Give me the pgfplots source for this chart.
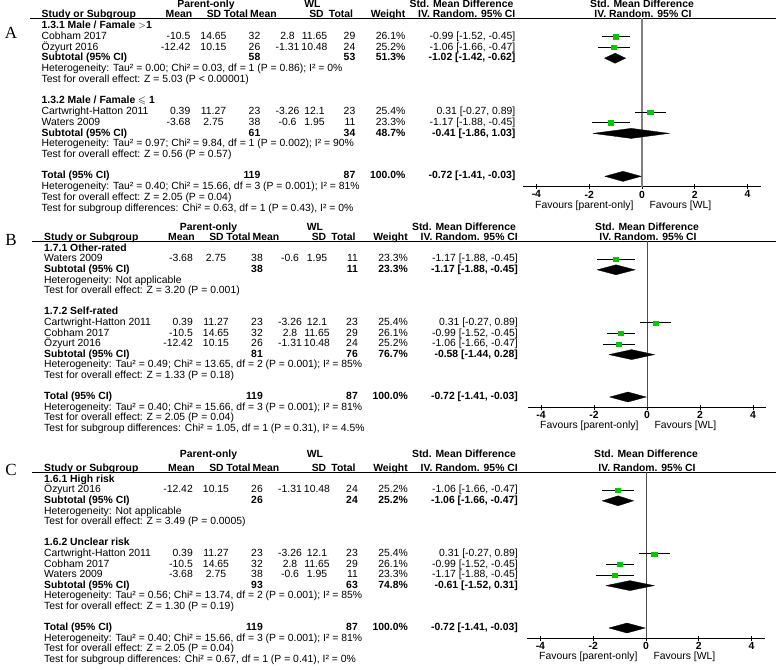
\documentclass[border=0pt]{standalone}
\usepackage{fontspec}
\setmainfont{Liberation Sans}
\newfontfamily\serifA{Liberation Serif}
\usepackage{amssymb}
\usepackage{pgfplots}
\pgfplotsset{compat=1.18}

\definecolor{mk}{RGB}{0,200,0}
\newcommand\fs{\fontsize{10.4}{12}\selectfont}

% panel: zero x, y of row 0, row step, text x shift, px per unit
\newcommand\setpanel[5]{\def\zx{#1}\def\yo{#2}\def\dy{#3}\def\xo{#4}\def\ux{#5}%
  \pgfmathsetmacro\axL{#1-4.5*#5}\pgfmathsetmacro\axB{-(#2+#3*16.95)}}
\newcommand\ry[1]{-(\yo+\dy*(#1))}
\newcommand\Lt[3]{\node[anchor=mid west,inner sep=0] at ({#1+\xo},{\ry{#2}}) {#3};}
\newcommand\Rt[3]{\node[anchor=mid east,inner sep=0] at ({#1+\xo},{\ry{#2}}) {#3};}
\newcommand\Ct[3]{\node[anchor=mid,inner sep=0] at ({#1+\xo},{\ry{#2}}) {#3};}

\newcommand\study[9]{\Lt{44}{#1}{#2}\Rt{193}{#1}{#3}\Ct{216}{#1}{#4}\Rt{263}{#1}{#5}%
  \Ct{290}{#1}{#6}\Ct{317}{#1}{#7}\Rt{358}{#1}{#8}\Rt{408}{#1}{#9}}
\newcommand\ci[2]{\Rt{518}{#1}{#2}}
\newcommand\subt[6]{\Lt{44}{#1}{\bfseries #2}\Rt{263}{#1}{\bfseries #3}\Rt{358}{#1}{\bfseries #4}%
  \Rt{408}{#1}{\bfseries #5}\Rt{518}{#1}{\bfseries #6}}

\newcommand\header{%
  \Ct{208.5}{\por}{\bfseries Parent-only}
  \Ct{315}{\por}{\bfseries WL}
  \Ct{464}{\por}{\bfseries Std. Mean Difference}
  \node[anchor=mid,inner sep=0] at ({\zx},{\ry{\por}}) {\bfseries Std. Mean Difference};
  \Lt{44}{1}{\bfseries Study or Subgroup}
  \Ct{181.5}{1}{\bfseries Mean}
  \Ct{216.5}{1}{\bfseries SD}
  \Ct{238.5}{1}{\bfseries Total}
  \Ct{266}{1}{\bfseries Mean}
  \Ct{319}{1}{\bfseries SD}
  \Ct{343.5}{1}{\bfseries Total}
  \Rt{408}{1}{\bfseries Weight}
  \Rt{518}{1}{\bfseries IV. Random. 95\% CI}
  \node[anchor=mid,inner sep=0] at ({\zx+1},{\ry{1}}) {\bfseries IV. Random. 95\% CI};
  \draw[line width=0.9pt] ({32+\xo},{\ry{1.3}}) -- (776,{\ry{1.3}});
}

\pgfplotsset{panel/.style={
  anchor=south west, at={(\axL pt,\axB pt)},
  x=\ux pt, y=\dy pt,
  xmin=-4.5, xmax=4.5, ymin=-16.95, ymax=-1.3,
  axis x line=bottom, axis y line=none, ytick=\empty,
  axis line style={-, line width=0.8pt, black},
  xtick={-4,-2,0,2,4}, xticklabels={-4,-2,0,2,4},
  tick align=center, major tick length=5pt,
  tick style={black, line width=0.8pt},
  x tick label style={font=\fs\bfseries, inner sep=1.5pt},
  clip=false},
  ci/.style={black, line width=0.8pt},
  sq/.style={only marks, mark=square*, mark size=2.1pt,
    mark options={fill=mk, draw=mk, xscale=1.2}},
  dm/.style={fill=black, draw=black, line width=0.3pt},
  zl/.style={gray, line width=1.2pt}}

\newcommand\favours{%
  \node[anchor=mid east, font=\fs, xshift=-5pt, yshift=-19pt] at (axis cs:0,-16.95) {Favours [parent-only]};
  \node[anchor=mid west, font=\fs, xshift=4pt, yshift=-19pt] at (axis cs:0,-16.95) {Favours [WL]};}

\begin{document}
\begin{tikzpicture}
\useasboundingbox (0,0) rectangle (776pt,-669pt);

% ================= A =================
\setpanel{642}{4.5}{10.74}{-2.5}{26.4}\def\por{0}
\begin{scope}[x=1pt,y=1pt,font=\fs]
\node[font=\serifA\fontsize{17}{17}\selectfont] at (11,-33) {A};
\header
\Lt{44}{2}{\bfseries 1.3.1 Male / Famale $>$1}
\study{3}{Cobham 2017}{-10.5}{14.65}{32}{2.8}{11.65}{29}{26.1\%}\ci{3}{-0.99 [-1.52, -0.45]}
\study{4}{Özyurt 2016}{-12.42}{10.15}{26}{-1.31}{10.48}{24}{25.2\%}\ci{4}{-1.06 [-1.66, -0.47]}
\subt{5}{Subtotal (95\% CI)}{58}{53}{51.3\%}{-1.02 [-1.42, -0.62]}
\Lt{44}{6}{Heterogeneity: Tau² = 0.00; Chi² = 0.03, df = 1 (P = 0.86); I² = 0\%}
\Lt{44}{7}{Test for overall effect: Z = 5.03 (P < 0.00001)}
\Lt{44}{9}{\bfseries 1.3.2 Male / Famale $\leqslant$ 1}
\study{10}{Cartwright-Hatton 2011}{0.39}{11.27}{23}{-3.26}{12.1}{23}{25.4\%}\ci{10}{0.31 [-0.27, 0.89]}
\study{11}{Waters 2009}{-3.68}{2.75}{38}{-0.6}{1.95}{11}{23.3\%}\ci{11}{-1.17 [-1.88, -0.45]}
\subt{12}{Subtotal (95\% CI)}{61}{34}{48.7\%}{-0.41 [-1.86, 1.03]}
\Lt{44}{13}{Heterogeneity: Tau² = 0.97; Chi² = 9.84, df = 1 (P = 0.002); I² = 90\%}
\Lt{44}{14}{Test for overall effect: Z = 0.56 (P = 0.57)}
\subt{16}{Total (95\% CI)}{119}{87}{100.0\%}{-0.72 [-1.41, -0.03]}
\Lt{44}{17}{Heterogeneity: Tau² = 0.40; Chi² = 15.66, df = 3 (P = 0.001); I² = 81\%}
\Lt{44}{18}{Test for overall effect: Z = 2.05 (P = 0.04)}
\Lt{44}{19}{Test for subgroup differences: Chi² = 0.63, df = 1 (P = 0.43), I² = 0\%}
\end{scope}
\begin{axis}[panel]
\addplot[zl] coordinates {(0,-1.3) (0,-16.95)};
\addplot[ci] coordinates {(-1.52,-3) (-0.45,-3)};
\addplot[sq] coordinates {(-0.99,-3)};
\addplot[ci] coordinates {(-1.66,-4) (-0.47,-4)};
\addplot[sq] coordinates {(-1.06,-4)};
\addplot[dm] coordinates {(-1.42,-5) (-1.02,-4.53) (-0.62,-5) (-1.02,-5.47) (-1.42,-5)};
\addplot[ci] coordinates {(-0.27,-10) (0.89,-10)};
\addplot[sq] coordinates {(0.31,-10)};
\addplot[ci] coordinates {(-1.88,-11) (-0.45,-11)};
\addplot[sq] coordinates {(-1.17,-11)};
\addplot[dm] coordinates {(-1.86,-12) (-0.41,-11.53) (1.03,-12) (-0.41,-12.47) (-1.86,-12)};
\addplot[dm] coordinates {(-1.41,-16) (-0.72,-15.53) (-0.03,-16) (-0.72,-16.47) (-1.41,-16)};
\favours
\end{axis}

% ================= B =================
\setpanel{647}{227.4}{10.6}{0}{26.5}\def\por{0}
\begin{scope}[x=1pt,y=1pt,font=\fs]
\node[font=\serifA\fontsize{17}{17}\selectfont] at (11,-240) {B};
\header
\Lt{44}{2}{\bfseries 1.7.1 Other-rated}
\study{3}{Waters 2009}{-3.68}{2.75}{38}{-0.6}{1.95}{11}{23.3\%}\ci{3}{-1.17 [-1.88, -0.45]}
\subt{4}{Subtotal (95\% CI)}{38}{11}{23.3\%}{-1.17 [-1.88, -0.45]}
\Lt{44}{5}{Heterogeneity: Not applicable}
\Lt{44}{6}{Test for overall effect: Z = 3.20 (P = 0.001)}
\Lt{44}{8}{\bfseries 1.7.2 Self-rated}
\study{9}{Cartwright-Hatton 2011}{0.39}{11.27}{23}{-3.26}{12.1}{23}{25.4\%}\ci{9}{0.31 [-0.27, 0.89]}
\study{10}{Cobham 2017}{-10.5}{14.65}{32}{2.8}{11.65}{29}{26.1\%}\ci{10}{-0.99 [-1.52, -0.45]}
\study{11}{Özyurt 2016}{-12.42}{10.15}{26}{-1.31}{10.48}{24}{25.2\%}\ci{11}{-1.06 [-1.66, -0.47]}
\subt{12}{Subtotal (95\% CI)}{81}{76}{76.7\%}{-0.58 [-1.44, 0.28]}
\Lt{44}{13}{Heterogeneity: Tau² = 0.49; Chi² = 13.65, df = 2 (P = 0.001); I² = 85\%}
\Lt{44}{14}{Test for overall effect: Z = 1.33 (P = 0.18)}
\subt{16}{Total (95\% CI)}{119}{87}{100.0\%}{-0.72 [-1.41, -0.03]}
\Lt{44}{17}{Heterogeneity: Tau² = 0.40; Chi² = 15.66, df = 3 (P = 0.001); I² = 81\%}
\Lt{44}{18}{Test for overall effect: Z = 2.05 (P = 0.04)}
\Lt{44}{19}{Test for subgroup differences: Chi² = 1.05, df = 1 (P = 0.31), I² = 4.5\%}
\end{scope}
\begin{axis}[panel]
\addplot[zl, black!70, line width=0.9pt] coordinates {(0,-1.3) (0,-16.95)};
\addplot[ci] coordinates {(-1.88,-3) (-0.45,-3)};
\addplot[sq] coordinates {(-1.17,-3)};
\addplot[dm] coordinates {(-1.88,-4) (-1.17,-3.53) (-0.45,-4) (-1.17,-4.47) (-1.88,-4)};
\addplot[ci] coordinates {(-0.27,-9) (0.89,-9)};
\addplot[sq] coordinates {(0.31,-9)};
\addplot[ci] coordinates {(-1.52,-10) (-0.45,-10)};
\addplot[sq] coordinates {(-0.99,-10)};
\addplot[ci] coordinates {(-1.66,-11) (-0.47,-11)};
\addplot[sq] coordinates {(-1.06,-11)};
\addplot[dm] coordinates {(-1.44,-12) (-0.58,-11.53) (0.28,-12) (-0.58,-12.47) (-1.44,-12)};
\addplot[dm] coordinates {(-1.41,-16) (-0.72,-15.53) (-0.03,-16) (-0.72,-16.47) (-1.41,-16)};
\favours
\end{axis}

% ================= C =================
\setpanel{646}{458.4}{10.6}{0}{26.4}\def\por{-0.35}
\begin{scope}[x=1pt,y=1pt,font=\fs]
\node[font=\serifA\fontsize{17}{17}\selectfont] at (11,-470) {C};
\header
\Lt{44}{2}{\bfseries 1.6.1 High risk}
\study{3}{Özyurt 2016}{-12.42}{10.15}{26}{-1.31}{10.48}{24}{25.2\%}\ci{3}{-1.06 [-1.66, -0.47]}
\subt{4}{Subtotal (95\% CI)}{26}{24}{25.2\%}{-1.06 [-1.66, -0.47]}
\Lt{44}{5}{Heterogeneity: Not applicable}
\Lt{44}{6}{Test for overall effect: Z = 3.49 (P = 0.0005)}
\Lt{44}{8}{\bfseries 1.6.2 Unclear risk}
\study{9}{Cartwright-Hatton 2011}{0.39}{11.27}{23}{-3.26}{12.1}{23}{25.4\%}\ci{9}{0.31 [-0.27, 0.89]}
\study{10}{Cobham 2017}{-10.5}{14.65}{32}{2.8}{11.65}{29}{26.1\%}\ci{10}{-0.99 [-1.52, -0.45]}
\study{11}{Waters 2009}{-3.68}{2.75}{38}{-0.6}{1.95}{11}{23.3\%}\ci{11}{-1.17 [-1.88, -0.45]}
\subt{12}{Subtotal (95\% CI)}{93}{63}{74.8\%}{-0.61 [-1.52, 0.31]}
\Lt{44}{13}{Heterogeneity: Tau² = 0.56; Chi² = 13.74, df = 2 (P = 0.001); I² = 85\%}
\Lt{44}{14}{Test for overall effect: Z = 1.30 (P = 0.19)}
\subt{16}{Total (95\% CI)}{119}{87}{100.0\%}{-0.72 [-1.41, -0.03]}
\Lt{44}{17}{Heterogeneity: Tau² = 0.40; Chi² = 15.66, df = 3 (P = 0.001); I² = 81\%}
\Lt{44}{18}{Test for overall effect: Z = 2.05 (P = 0.04)}
\Lt{44}{19}{Test for subgroup differences: Chi² = 0.67, df = 1 (P = 0.41), I² = 0\%}
\end{scope}
\begin{axis}[panel]
\addplot[zl, black!70, line width=0.9pt] coordinates {(0,-1.3) (0,-16.95)};
\addplot[ci] coordinates {(-1.66,-3) (-0.47,-3)};
\addplot[sq] coordinates {(-1.06,-3)};
\addplot[dm] coordinates {(-1.66,-4) (-1.06,-3.53) (-0.47,-4) (-1.06,-4.47) (-1.66,-4)};
\addplot[ci] coordinates {(-0.27,-9) (0.89,-9)};
\addplot[sq] coordinates {(0.31,-9)};
\addplot[ci] coordinates {(-1.52,-10) (-0.45,-10)};
\addplot[sq] coordinates {(-0.99,-10)};
\addplot[ci] coordinates {(-1.88,-11) (-0.45,-11)};
\addplot[sq] coordinates {(-1.17,-11)};
\addplot[dm] coordinates {(-1.52,-12) (-0.61,-11.53) (0.31,-12) (-0.61,-12.47) (-1.52,-12)};
\addplot[dm] coordinates {(-1.41,-16) (-0.72,-15.53) (-0.03,-16) (-0.72,-16.47) (-1.41,-16)};
\favours
\end{axis}
\end{tikzpicture}
\end{document}
